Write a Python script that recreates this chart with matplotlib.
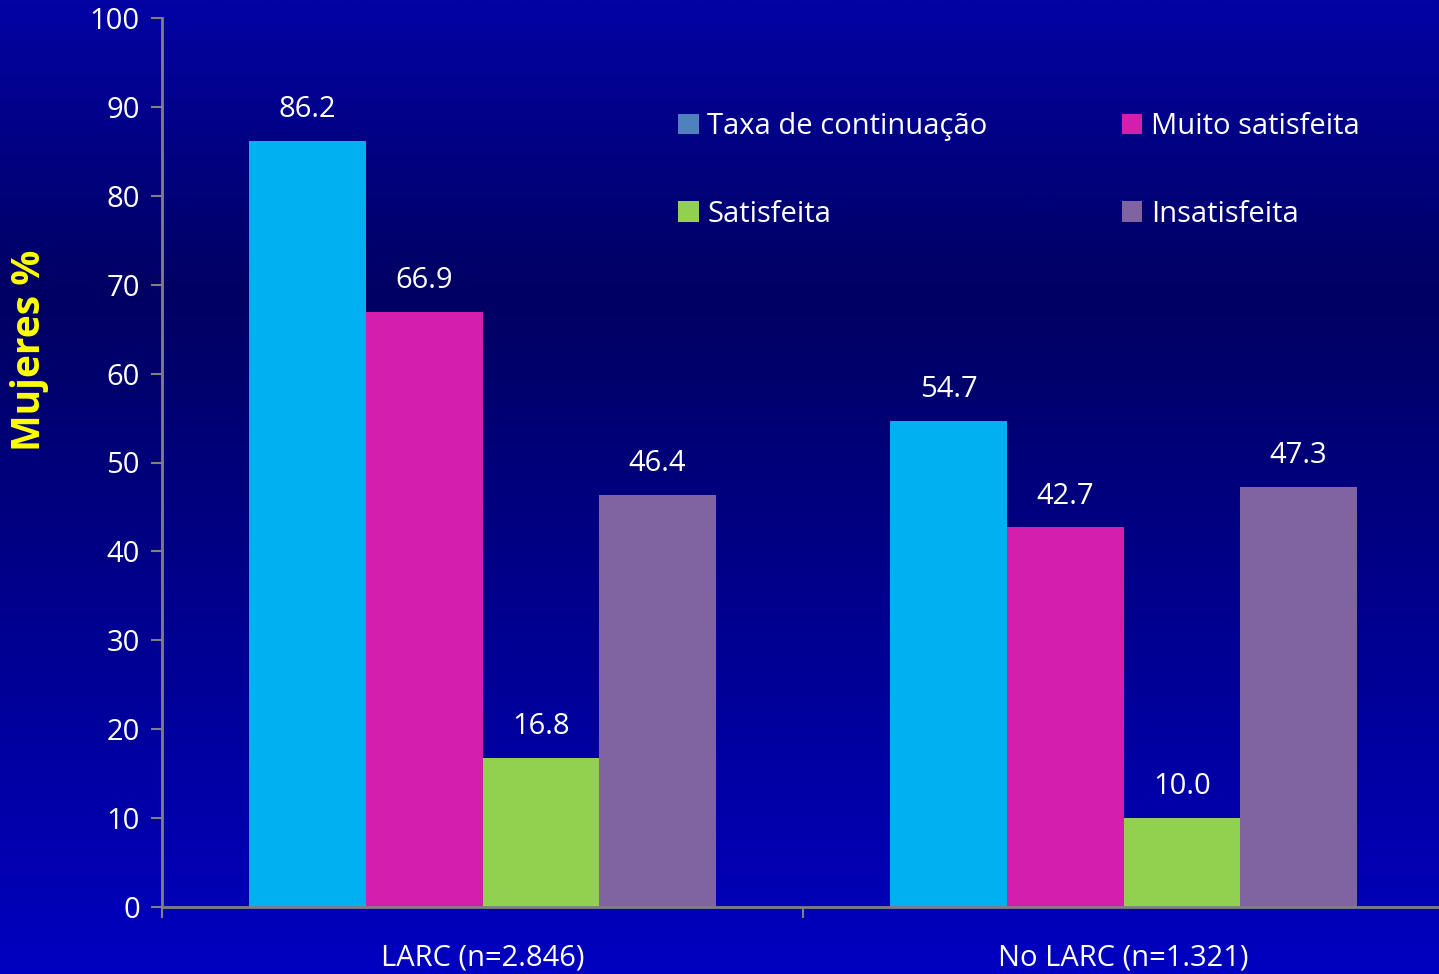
import numpy as np
import matplotlib.pyplot as plt
from matplotlib.patches import Patch
from matplotlib.colors import LinearSegmentedColormap

# Datos por grupo
grupos = ['LARC (n=2.846)', 'No LARC (n=1.321)']
series = ['Taxa de continuação', 'Muito satisfeita', 'Satisfeita', 'Insatisfeita']
taxa = [86.2, 54.7]
muito = [66.9, 42.7]
satisfeita = [16.8, 10.0]
insatisfeita = [46.4, 47.3]

valores = [taxa, muito, satisfeita, insatisfeita]
cores = ['#00B0F0', '#D41FAD', '#92D050', '#8064A2']
cores_legenda = ['#4F81BD', '#D41FAD', '#92D050', '#8064A2']

plt.rcParams['font.family'] = ['Open Sans', 'DejaVu Sans']

fig = plt.figure(figsize=(14.39, 9.74), dpi=100)

# Fundo em degradê azul
bg = fig.add_axes([0, 0, 1, 1], zorder=-10)
cmap = LinearSegmentedColormap.from_list(
    'fundo', [(0.0, '#0000C0'), (0.70, '#000062'), (1.0, '#0303A4')])
grad = np.linspace(0, 1, 512).reshape(-1, 1)
bg.imshow(grad, aspect='auto', cmap=cmap, origin='lower', extent=[0, 1, 0, 1])
bg.axis('off')

W, H = 1439, 974
left, right, top, bottom = 162, 1444, 18, 907
ax = fig.add_axes([left / W, 1 - bottom / H, (right - left) / W, (bottom - top) / H])
ax.patch.set_alpha(0)

x = np.arange(len(grupos))
largura = 0.182
for i, (vals, cor) in enumerate(zip(valores, cores)):
    pos = x + (i - 1.5) * largura
    ax.bar(pos, vals, largura, color=cor, zorder=2)
    for xp, v in zip(pos, vals):
        ax.text(xp, v + 1.9, f'{v:.1f}', ha='center', va='bottom',
                color='white', fontsize=21)

ax.set_xlim(-0.5, 1.5)
ax.set_ylim(0, 100)
ax.set_yticks(range(0, 101, 10))
ax.tick_params(axis='y', colors='#808080', labelcolor='white', labelsize=21,
               length=8, width=1.5, pad=8)

ax.set_xticks(x)
ax.set_xticklabels(grupos)
ax.tick_params(axis='x', which='major', length=0, labelcolor='white',
               labelsize=21, pad=26)
ax.set_xticks([-0.5, 0.5, 1.5], minor=True)
ax.tick_params(axis='x', which='minor', length=8, width=1.5, colors='#808080')

for s in ['top', 'right']:
    ax.spines[s].set_visible(False)
for s in ['left', 'bottom']:
    ax.spines[s].set_color('#808080')
    ax.spines[s].set_linewidth(2)

fig.text(30 / W, 1 - 350 / H, 'Mujeres %', rotation=90, ha='center',
         va='center', color='#FFFF00', fontsize=28, fontweight='bold')

# Legenda em duas colunas
ordem = [0, 2, 1, 3]
handles = [Patch(facecolor=cores_legenda[i]) for i in ordem]
labels = [series[i] for i in ordem]
ax.legend(handles, labels, ncol=2, frameon=False, loc='upper left',
          bbox_to_anchor=(490 / (right - left), 1 - 68 / (bottom - top)),
          fontsize=21, labelcolor='white', handlelength=0.7, handleheight=0.7,
          handletextpad=0.3, labelspacing=2.0, columnspacing=4.6)

fig.savefig('out.png', dpi=100)
